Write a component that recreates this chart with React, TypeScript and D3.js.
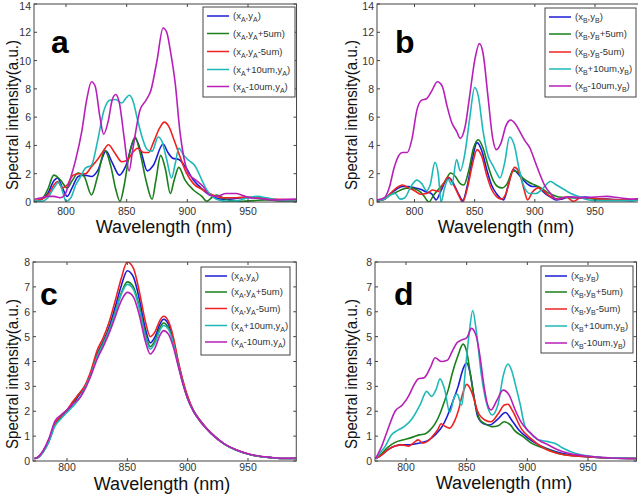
import React from 'react';
import * as d3 from 'd3';

type Pt = [number, number];

const xTicks = [800, 850, 900, 950];
const yTicksTop = [0, 2, 4, 6, 8, 10, 12, 14];
const yTicksBottom = [0, 1, 2, 3, 4, 5, 6, 7, 8];
const seriesColors = ['#1c1cd6', '#1a7f1a', '#ee2222', '#1fb8b8', '#b81fb8'];

// ---------- panel a ----------
const aBlue: Pt[] = [[774,0.05],[780,0.2],[785,0.6],[790,1.5],[793,1.7],[797,1.0],[801,0.4],[805,1.0],[810,1.8],[815,1.9],[821,1.8],[826,2.2],[833,3.6],[838,2.8],[844,1.9],[849,2.5],[857,4.5],[862,3.5],[867,2.2],[872,2.6],[880,4.1],[884,3.5],[888,3.1],[893,3.0],[899,2.4],[905,1.55],[910,1.1],[916,0.63],[921,0.4],[928,0.2],[935,0.2],[945,0.3],[955,0.3],[965,0.2],[975,0.1],[990,0.1]];
const aGreen: Pt[] = [[774,0.05],[780,0.2],[785,0.9],[790,1.9],[795,1.6],[801,1.0],[805,1.5],[810,2.05],[815,1.8],[821,0.5],[826,1.8],[832,3.65],[837,2.5],[841,0.9],[844.5,0.05],[848,1.2],[852,3.3],[857,4.6],[861,3.5],[866,1.5],[871,0.2],[874,1.5],[878,3.3],[882,2.3],[886,0.6],[889,1.5],[893,2.45],[898,1.56],[905,0.85],[912,0.4],[916,0.05],[920,0.3],[924,0.5],[928,0.35],[935,0.1],[945,0.05],[955,0.1],[965,0.15],[975,0.1],[990,0.1]];
const aRed: Pt[] = [[774,0.1],[780,0.2],[786,0.6],[790,1.2],[793,1.45],[797,1.0],[801,1.2],[806,1.9],[811,2.0],[816,2.0],[821,2.5],[826,3.0],[830,3.5],[835,4.05],[840,3.5],[846,2.85],[851,3.0],[855,3.5],[859,3.8],[864,3.5],[868,3.5],[872,4.2],[877,5.2],[881,5.65],[885,5.3],[889,4.4],[894,3.2],[899,2.1],[905,1.3],[913,0.85],[921,0.5],[930,0.3],[940,0.3],[950,0.35],[960,0.3],[970,0.2],[990,0.15]];
const aCyan: Pt[] = [[774,0.1],[780,0.05],[785,0.3],[790,1.0],[794,1.4],[797,0.8],[800,0.05],[804,0.3],[808,1.2],[812,1.8],[816,2.4],[821,2.6],[826,4.3],[831,6.4],[836,7.2],[841,7.25],[846,7.0],[849,7.3],[852,7.55],[855,7.2],[859,5.8],[863,4.5],[867,3.7],[871,3.6],[876,4.6],[879,4.3],[883,3.0],[887,1.7],[890,2.7],[893,3.8],[897,3.3],[901,2.95],[906,2.6],[912,1.55],[916,0.85],[921,0.35],[928,0.1],[935,0.05],[942,0.1],[950,0.3],[958,0.4],[965,0.3],[975,0.15],[990,0.15]];
const aMagenta: Pt[] = [[774,0.2],[780,0.3],[785,0.4],[790,0.4],[795,0.3],[799,0.5],[803,1.5],[808,3.0],[813,5.0],[817,7.2],[821,8.5],[824,8.2],[828,6.0],[831,4.8],[835,5.8],[838,7.2],[841,7.6],[844,7.0],[848,4.5],[852,2.2],[855,3.7],[861,6.5],[866,7.2],[870,7.9],[875,10.0],[880,12.3],[883,12.0],[886,10.7],[890,8.4],[894,4.9],[897,3.2],[901,2.0],[907,1.55],[913,1.1],[918,0.5],[924,0.4],[932,0.6],[940,0.6],[946,0.45],[952,0.3],[960,0.25],[970,0.15],[990,0.2]];

// ---------- panel b ----------
const bBlue: Pt[] = [[769,0.1],[775,0.2],[780,0.6],[785,0.9],[790,1.1],[795,1.1],[800,1.0],[805,0.9],[810,0.7],[814,0.6],[818,0.15],[822,0.8],[826,1.5],[829,1.7],[833,1.2],[837,0.5],[840,0.1],[844,1.2],[848,3.0],[852,4.2],[856,3.6],[860,2.3],[864,1.2],[868,0.6],[871,0.3],[874,0.15],[878,1.2],[882,2.3],[886,2.0],[890,1.6],[895,1.2],[898,1.1],[902,1.1],[906,0.8],[910,0.5],[914,0.3],[918,0.15],[922,0.2],[928,0.35],[935,0.3],[942,0.35],[950,0.25],[960,0.2],[970,0.15],[980,0.1],[990,0.15]];
const bGreen: Pt[] = [[769,0.1],[775,0.2],[780,0.5],[785,0.7],[790,0.9],[796,1.0],[801,0.9],[805,0.7],[808,0.4],[812,0.0],[816,0.5],[820,0.9],[825,1.4],[830,2.05],[834,1.8],[838,1.3],[841,1.2],[845,2.2],[849,3.8],[853,4.4],[857,3.8],[861,2.6],[865,1.6],[869,1.1],[873,1.0],[877,1.3],[882,2.2],[886,2.1],[890,1.7],[895,1.4],[900,1.2],[905,1.0],[910,0.7],[915,0.5],[920,0.35],[930,0.3],[940,0.3],[950,0.2],[965,0.15],[980,0.15],[990,0.2]];
const bRed: Pt[] = [[769,0.1],[775,0.2],[780,0.6],[785,1.0],[790,1.2],[795,1.0],[800,0.8],[805,0.55],[810,0.6],[815,0.85],[820,0.75],[824,1.3],[828,1.75],[832,1.3],[836,0.6],[840,0.0],[844,1.0],[848,2.6],[852,3.7],[856,3.2],[860,1.9],[864,0.9],[868,0.4],[872,0.2],[876,0.6],[880,1.8],[883,2.45],[887,2.1],[891,0.9],[894,0.15],[898,0.7],[903,1.0],[907,0.8],[911,0.5],[915,0.3],[920,0.2],[926,0.35],[932,0.05],[938,0.3],[945,0.3],[955,0.2],[970,0.15],[990,0.2]];
const bCyan: Pt[] = [[769,0.1],[775,0.2],[780,0.5],[784,0.6],[788,0.2],[792,0.3],[797,1.1],[802,1.55],[806,1.3],[810,0.8],[813,1.2],[817,2.8],[820,1.8],[822,0.0],[825,1.0],[828,1.6],[831,1.2],[835,3.0],[838,2.2],[842,3.5],[846,6.0],[850,8.1],[853,7.5],[857,5.0],[861,3.3],[865,2.6],[868,2.1],[871,1.7],[875,2.8],[879,4.6],[883,4.0],[887,2.3],[891,1.1],[896,0.6],[901,0.6],[906,0.9],[913,1.45],[918,1.2],[924,0.9],[930,0.6],[936,0.4],[942,0.2],[950,0.1],[960,0.1],[975,0.1],[990,0.15]];
const bMagenta: Pt[] = [[769,0.15],[775,0.3],[779,1.0],[783,2.4],[787,3.3],[790,3.5],[794,3.5],[798,4.5],[802,6.5],[806,7.2],[810,7.3],[814,7.8],[819,8.5],[823,8.2],[827,6.8],[831,5.6],[835,5.0],[838,4.5],[842,5.3],[846,7.6],[850,10.0],[854,11.2],[857,10.5],[861,7.5],[865,4.5],[868,3.7],[872,4.2],[876,5.4],[880,5.8],[884,5.5],[888,4.9],[892,4.3],[896,3.8],[900,2.9],[904,2.0],[908,1.2],[913,0.6],[918,0.2],[923,0.3],[930,0.35],[940,0.3],[950,0.35],[960,0.4],[970,0.3],[980,0.2],[990,0.25]];

// ---------- panel c ----------
const cBlue: Pt[] = [[773,0.1],[775,0.12],[780,0.35],[785,0.8],[790,1.45],[795,1.75],[800,2.0],[805,2.3],[810,2.65],[815,3.0],[820,3.55],[825,4.3],[830,4.8],[835,5.4],[840,6.2],[845,7.05],[850,7.65],[855,7.4],[860,6.5],[865,5.3],[869,4.75],[873,5.0],[877,5.5],[880,5.7],[884,5.5],[888,4.9],[892,4.0],[896,3.2],[900,2.55],[905,2.0],[910,1.65],[915,1.35],[920,1.1],[930,0.7],[940,0.45],[950,0.28],[960,0.18],[970,0.13],[980,0.1],[990,0.1]];
const cGreen: Pt[] = [[773,0.1],[775,0.12],[780,0.35],[785,0.8],[790,1.5],[795,1.8],[800,2.05],[805,2.35],[810,2.7],[815,3.0],[820,3.55],[825,4.25],[830,4.75],[835,5.3],[840,6.0],[845,6.75],[850,7.2],[855,7.0],[860,6.2],[865,5.1],[869,4.6],[873,4.85],[877,5.35],[880,5.55],[884,5.35],[888,4.8],[892,3.95],[896,3.15],[900,2.5],[905,2.0],[910,1.62],[915,1.33],[920,1.08],[930,0.69],[940,0.44],[950,0.28],[960,0.18],[970,0.13],[980,0.1],[990,0.1]];
const cRed: Pt[] = [[773,0.1],[775,0.12],[780,0.38],[785,0.85],[790,1.5],[795,1.8],[800,2.05],[805,2.4],[810,2.7],[815,3.05],[820,3.65],[825,4.45],[830,4.95],[835,5.6],[840,6.45],[845,7.35],[850,8.0],[855,7.75],[860,6.8],[865,5.6],[869,5.0],[873,5.2],[877,5.65],[880,5.82],[884,5.62],[888,5.0],[892,4.05],[896,3.25],[900,2.6],[905,2.02],[910,1.66],[915,1.36],[920,1.1],[930,0.7],[940,0.45],[950,0.28],[960,0.18],[970,0.13],[980,0.1],[990,0.1]];
const cCyan: Pt[] = [[773,0.1],[775,0.12],[780,0.35],[785,0.78],[790,1.4],[795,1.7],[800,1.95],[805,2.2],[810,2.5],[815,2.95],[820,3.5],[825,4.2],[830,4.7],[835,5.25],[840,5.95],[845,6.7],[850,7.1],[855,6.9],[860,6.1],[865,5.0],[869,4.5],[873,4.75],[877,5.25],[880,5.45],[884,5.3],[888,4.75],[892,3.9],[896,3.12],[900,2.5],[905,1.98],[910,1.62],[915,1.33],[920,1.08],[930,0.69],[940,0.44],[950,0.28],[960,0.18],[970,0.13],[980,0.1],[990,0.1]];
const cMagenta: Pt[] = [[773,0.1],[775,0.13],[780,0.4],[785,0.9],[790,1.6],[795,1.85],[800,2.05],[805,2.3],[810,2.5],[815,2.9],[820,3.45],[825,4.1],[830,4.6],[835,5.15],[840,5.8],[845,6.45],[850,6.78],[855,6.6],[860,5.85],[865,4.8],[869,4.3],[873,4.55],[877,5.05],[880,5.24],[884,5.1],[888,4.6],[892,3.85],[896,3.1],[900,2.5],[905,1.98],[910,1.62],[915,1.33],[920,1.08],[930,0.7],[940,0.45],[950,0.29],[960,0.19],[970,0.14],[980,0.11],[990,0.12]];

// ---------- panel d ----------
const dBlue: Pt[] = [[775,0.1],[780,0.25],[785,0.45],[791,0.6],[797,0.65],[803,0.65],[809,0.7],[814,0.75],[819,0.85],[824,1.05],[830,1.4],[834,1.8],[839,2.45],[843,3.0],[847,3.7],[850,3.95],[853,3.5],[856,2.6],[859,1.8],[864,1.5],[869,1.45],[875,1.65],[882,1.95],[887,1.65],[893,1.25],[901,0.9],[912,0.58],[923,0.38],[935,0.25],[950,0.17],[965,0.12],[990,0.1]];
const dGreen: Pt[] = [[775,0.1],[780,0.3],[785,0.55],[791,0.75],[798,0.85],[805,0.95],[811,1.05],[816,1.1],[820,1.25],[824,1.5],[828,1.9],[831,2.3],[835,2.9],[838,3.5],[843,4.26],[847,4.7],[850,4.4],[853,3.5],[857,2.3],[861,1.65],[865,1.5],[871,1.38],[876,1.42],[881,1.58],[886,1.45],[890,1.2],[896,1.0],[904,0.7],[915,0.5],[926,0.3],[940,0.2],[955,0.15],[970,0.12],[990,0.1]];
const dRed: Pt[] = [[775,0.1],[780,0.25],[785,0.45],[791,0.6],[797,0.65],[802,0.6],[806,0.72],[810,0.85],[814,0.72],[818,0.8],[822,1.0],[826,1.25],[829,1.5],[832,1.4],[836,1.32],[840,1.6],[843,2.0],[847,2.75],[850,3.08],[853,2.9],[856,2.5],[859,2.0],[865,1.65],[870,1.58],[876,1.9],[881,2.25],[884,2.28],[888,2.0],[895,1.3],[903,0.9],[914,0.5],[925,0.3],[940,0.2],[955,0.15],[970,0.12],[990,0.1]];
const dCyan: Pt[] = [[775,0.1],[779,0.35],[783,0.6],[788,1.05],[792,1.2],[799,1.4],[805,1.7],[812,2.3],[817,2.8],[821,2.6],[825,2.9],[828,3.3],[832,2.85],[836,1.95],[840,2.6],[842,2.7],[846,2.25],[849,3.7],[852,5.1],[855,6.05],[858,5.2],[862,3.5],[866,2.4],[871,1.85],[876,2.3],[880,3.4],[884,3.9],[887,3.65],[890,3.1],[894,2.3],[898,1.4],[903,1.1],[909,0.85],[917,0.78],[923,0.7],[930,0.5],[940,0.3],[950,0.2],[960,0.15],[975,0.12],[990,0.1]];
const dMagenta: Pt[] = [[775,0.1],[780,0.6],[786,1.4],[791,2.0],[797,2.25],[802,2.6],[806,3.0],[810,3.3],[815,3.35],[820,3.75],[824,4.15],[829,4.0],[834,4.05],[838,4.4],[842,4.75],[846,4.87],[850,4.95],[854,5.33],[858,5.0],[861,4.2],[864,3.1],[867,2.3],[870,2.05],[875,2.45],[880,2.85],[885,2.65],[890,2.05],[895,1.55],[901,1.2],[909,0.85],[917,0.65],[925,0.45],[935,0.3],[945,0.22],[955,0.17],[970,0.12],[990,0.1]];

type Panel = {
  id: string; letter: string; sub: string; series: Pt[][]; yTicks: number[]; yMax: number;
  x800: number; x950: number; left: number; top: number; bottom: number;
  lgX: number; lgY: number; lgW: number; lgH: number; lgRows: number[];
  letterX: number; letterY: number; xlabX: number; xlabY: number; ylabX: number; ylabY: number; tickLabY: number;
};

const panels: Panel[] = [
  { id: 'a', letter: 'a', sub: 'A', series: [aBlue, aGreen, aRed, aCyan, aMagenta], yTicks: yTicksTop, yMax: 14,
    x800: 66, x950: 248, left: 34, top: 4, bottom: 202,
    lgX: 203, lgY: 7, lgW: 92, lgH: 90, lgRows: [16, 33.5, 51.5, 69.5, 86.5],
    letterX: 51, letterY: 53, xlabX: 164, xlabY: 227, ylabX: 12, ylabY: 115, tickLabY: 211 },
  { id: 'b', letter: 'b', sub: 'B', series: [bBlue, bGreen, bRed, bCyan, bMagenta], yTicks: yTicksTop, yMax: 14,
    x800: 414.5, x950: 595, left: 377, top: 4, bottom: 202,
    lgX: 545, lgY: 8, lgW: 91, lgH: 89, lgRows: [17, 34, 52, 69, 86],
    letterX: 395, letterY: 53, xlabX: 506, xlabY: 227, ylabX: 351, ylabY: 115, tickLabY: 211 },
  { id: 'c', letter: 'c', sub: 'A', series: [cBlue, cGreen, cRed, cCyan, cMagenta], yTicks: yTicksBottom, yMax: 8,
    x800: 67, x950: 248, left: 33, top: 262, bottom: 461,
    lgX: 201, lgY: 267, lgW: 89, lgH: 88, lgRows: [276, 292, 308.5, 325.5, 342],
    letterX: 40, letterY: 305, xlabX: 162, xlabY: 484, ylabX: 12, ylabY: 374, tickLabY: 467 },
  { id: 'd', letter: 'd', sub: 'B', series: [dBlue, dGreen, dRed, dCyan, dMagenta], yTicks: yTicksBottom, yMax: 8,
    x800: 406, x950: 588, left: 375, top: 262, bottom: 461,
    lgX: 541, lgY: 266, lgW: 92, lgH: 87, lgRows: [276, 292, 309, 326, 343],
    letterX: 394, letterY: 305, xlabX: 504, xlabY: 483, ylabX: 351, ylabY: 374, tickLabY: 467 },
];

const FONT = "'Liberation Sans', Arial, sans-serif";

function legendSegs(i: number, s: string): [string, boolean][] {
  switch (i) {
    case 0: return [['(x', false], [s, true], [',y', false], [s, true], [')', false]];
    case 1: return [['(x', false], [s, true], [',y', false], [s, true], ['+5um)', false]];
    case 2: return [['(x', false], [s, true], [',y', false], [s, true], ['-5um)', false]];
    case 3: return [['(x', false], [s, true], ['+10um,y', false], [s, true], [')', false]];
    default: return [['(x', false], [s, true], ['-10um,y', false], [s, true], [')', false]];
  }
}

function PanelView({ p }: { p: Panel }) {
  const x = d3.scaleLinear().domain([800, 950]).range([p.x800, p.x950]);
  const right = x(990);
  const y = d3.scaleLinear().domain([0, p.yMax]).range([p.bottom, p.top]);
  const line = d3.line<Pt>().x(d => x(d[0])).y(d => y(d[1])).curve(d3.curveMonotoneX);
  const tl = 3;
  const clipId = 'clip-' + p.id;
  return (
    <g>
      <defs>
        <clipPath id={clipId}>
          <rect x={p.left} y={p.top} width={right - p.left} height={p.bottom - p.top} />
        </clipPath>
      </defs>
      <g clipPath={`url(#${clipId})`}>
        {p.series.map((s, i) => (
          <path key={i} d={line(s) || ''} fill="none" stroke={seriesColors[i]} strokeWidth={1.6} strokeLinejoin="round" />
        ))}
      </g>
      <rect x={p.left} y={p.top} width={right - p.left} height={p.bottom - p.top} fill="none" stroke="#444" strokeWidth={1} />
      {xTicks.map(t => (
        <g key={'xt' + t}>
          <line x1={x(t)} x2={x(t)} y1={p.bottom} y2={p.bottom - tl} stroke="#444" />
          <line x1={x(t)} x2={x(t)} y1={p.top} y2={p.top + tl} stroke="#444" />
          <text x={x(t)} y={p.tickLabY} textAnchor="middle" dominantBaseline="central" fontSize={10.5} fill="#333" fontFamily={FONT}>{t}</text>
        </g>
      ))}
      {p.yTicks.map(t => (
        <g key={'yt' + t}>
          <line x1={p.left} x2={p.left + tl} y1={y(t)} y2={y(t)} stroke="#444" />
          <line x1={right} x2={right - tl} y1={y(t)} y2={y(t)} stroke="#444" />
          <text x={p.left - 3} y={Math.max(y(t), 6)} textAnchor="end" dominantBaseline="central" fontSize={10.5} fill="#333" fontFamily={FONT}>{t}</text>
        </g>
      ))}
      <text x={p.letterX} y={p.letterY} fontSize={32} fontWeight="bold" fontFamily={FONT} fill="#000">{p.letter}</text>
      <text x={p.xlabX} y={p.xlabY} textAnchor="middle" dominantBaseline="central" fontSize={18} fontFamily={FONT} fill="#111">Wavelength (nm)</text>
      <text transform={`translate(${p.ylabX},${p.ylabY}) rotate(-90)`} textAnchor="middle" dominantBaseline="central" fontSize={17} fontFamily={FONT} fill="#111" textLength={150} lengthAdjust="spacingAndGlyphs">Spectral intensity(a.u.)</text>
      <rect x={p.lgX} y={p.lgY} width={p.lgW} height={p.lgH} fill="#fff" stroke="#444" strokeWidth={1} />
      {p.lgRows.map((ry, i) => (
        <g key={'lg' + i}>
          <line x1={p.lgX + 4} x2={p.lgX + 26} y1={ry} y2={ry} stroke={seriesColors[i]} strokeWidth={1.5} />
          <text x={p.lgX + 30} y={ry + 3} fontSize={9.5} fontFamily={FONT} fill="#333">
            {legendSegs(i, p.sub).map(([txt, isSub], k) => (
              <tspan key={k} fontSize={isSub ? 7 : 9.5} dy={isSub ? 3 : (k > 0 ? -3 : 0)}>{txt}</tspan>
            ))}
          </text>
        </g>
      ))}
    </g>
  );
}

export default function App() {
  return (
    <svg width={638} height={494} style={{ position: 'absolute', left: 0, top: 0, background: '#fff' }}>
      <rect x={0} y={0} width={638} height={494} fill="#fff" />
      {panels.map(p => <PanelView key={p.id} p={p} />)}
    </svg>
  );
}
